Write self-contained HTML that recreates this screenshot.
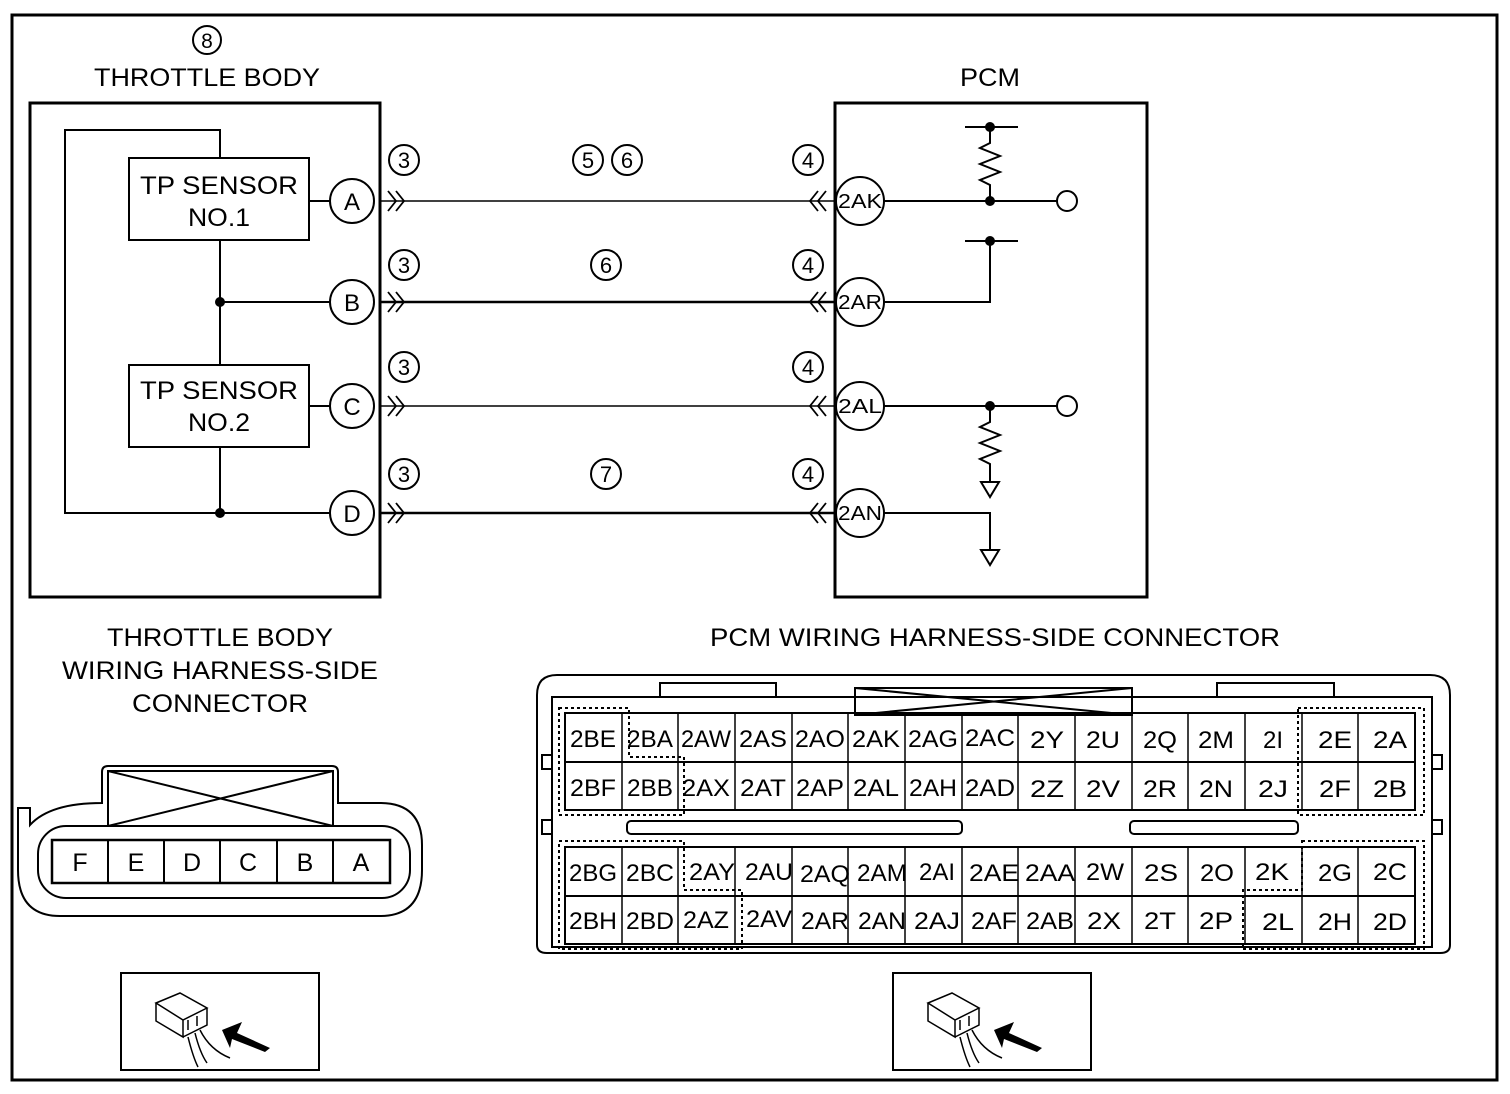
<!DOCTYPE html><html><head><style>body{margin:0;background:#fff}svg{display:block}</style></head><body>
<svg width="1510" height="1094" viewBox="0 0 1510 1094" xmlns="http://www.w3.org/2000/svg" font-family="Liberation Sans, sans-serif">
<rect x="0" y="0" width="1510" height="1094" fill="#fff"/>
<rect x="12" y="15" width="1485" height="1065" fill="none" stroke="#000" stroke-width="3"/>
<g fill="none" stroke="#000" stroke-width="3">
<rect x="30" y="103" width="350" height="494"/>
<rect x="835" y="103" width="312" height="494"/>
</g>
<g font-size="25" text-anchor="middle" fill="#000">
<text x="207" y="86" textLength="226" lengthAdjust="spacingAndGlyphs">THROTTLE BODY</text>
<text x="990" y="86" textLength="60" lengthAdjust="spacingAndGlyphs">PCM</text>
<text x="220" y="646" textLength="226" lengthAdjust="spacingAndGlyphs">THROTTLE BODY</text>
<text x="220" y="679" textLength="316" lengthAdjust="spacingAndGlyphs">WIRING HARNESS-SIDE</text>
<text x="220" y="712" textLength="176" lengthAdjust="spacingAndGlyphs">CONNECTOR</text>
<text x="995" y="646" textLength="570" lengthAdjust="spacingAndGlyphs">PCM WIRING HARNESS-SIDE CONNECTOR</text>
<text x="219" y="194" textLength="158" lengthAdjust="spacingAndGlyphs">TP SENSOR</text><text x="219" y="226" textLength="62" lengthAdjust="spacingAndGlyphs">NO.1</text>
<text x="219" y="399" textLength="158" lengthAdjust="spacingAndGlyphs">TP SENSOR</text><text x="219" y="431" textLength="62" lengthAdjust="spacingAndGlyphs">NO.2</text>
</g>
<g fill="none" stroke="#000" stroke-width="2">
<polyline points="220,158 220,130 65,130 65,513 330,513"/>
<line x1="220" y1="240" x2="220" y2="365"/>
<line x1="220" y1="447" x2="220" y2="513"/>
<line x1="220" y1="302" x2="330" y2="302"/>
<rect x="129" y="158" width="180" height="82"/>
<rect x="129" y="365" width="180" height="82"/>
<line x1="309" y1="201" x2="330" y2="201"/>
<line x1="309" y1="406" x2="330" y2="406"/>
<circle cx="352" cy="201" r="22"/><circle cx="352" cy="302" r="22"/><circle cx="352" cy="406" r="22"/><circle cx="352" cy="513" r="22"/>
<circle cx="860" cy="201" r="24"/><circle cx="860" cy="302" r="24"/><circle cx="860" cy="406" r="24"/><circle cx="860" cy="513" r="24"/>
<line x1="380" y1="201" x2="835" y2="201" stroke-width="1.5"/>
<line x1="380" y1="302" x2="835" y2="302" stroke-width="2.5"/>
<line x1="380" y1="406" x2="835" y2="406" stroke-width="1.5"/>
<line x1="380" y1="513" x2="835" y2="513" stroke-width="2.5"/>
<circle cx="207" cy="40" r="14"/>
<circle cx="404" cy="160" r="15"/><circle cx="404" cy="265" r="15"/><circle cx="404" cy="367" r="15"/><circle cx="404" cy="474" r="15"/>
<circle cx="808" cy="160" r="15"/><circle cx="808" cy="265" r="15"/><circle cx="808" cy="367" r="15"/><circle cx="808" cy="474" r="15"/>
<circle cx="588" cy="160" r="15"/><circle cx="627" cy="160" r="15"/><circle cx="606" cy="265" r="15"/><circle cx="606" cy="474" r="15"/>
<line x1="884" y1="201" x2="1057" y2="201"/><circle cx="1067" cy="201" r="10"/>
<polyline points="990,201 990,185 980,180 1000,172 980,164 1000,156 980,148 990,143 990,127"/>
<line x1="965" y1="127" x2="1018" y2="127"/>
<polyline points="884,302 990,302 990,241"/><line x1="965" y1="241" x2="1018" y2="241"/>
<line x1="884" y1="406" x2="1057" y2="406"/><circle cx="1067" cy="406" r="10"/>
<polyline points="990,406 990,422 980,427 1000,435 980,443 1000,451 980,459 990,464 990,482"/>
<polygon points="981,482 999,482 990,497"/>
<polyline points="884,513 990,513 990,550"/><polygon points="981,550 999,550 990,565"/>
</g>
<g fill="#000">
<circle cx="220" cy="302" r="5"/><circle cx="220" cy="513" r="5"/>
<circle cx="990" cy="201" r="5"/><circle cx="990" cy="127" r="5"/><circle cx="990" cy="241" r="5"/><circle cx="990" cy="406" r="5"/>
</g>
<g font-size="24" text-anchor="middle" fill="#000">
<text x="352" y="210">A</text><text x="352" y="311">B</text><text x="352" y="415">C</text><text x="352" y="522">D</text>
<text x="207" y="48" font-size="21">8</text>
</g>
<g font-size="22" text-anchor="middle" fill="#000">
<text x="404" y="168">3</text><text x="404" y="273">3</text><text x="404" y="375">3</text><text x="404" y="482">3</text>
<text x="808" y="168">4</text><text x="808" y="273">4</text><text x="808" y="375">4</text><text x="808" y="482">4</text>
<text x="588" y="168">5</text><text x="627" y="168">6</text><text x="606" y="273">6</text><text x="606" y="482">7</text>
</g>
<g font-size="20" text-anchor="middle" fill="#000">
<text x="860" y="208" textLength="44" lengthAdjust="spacingAndGlyphs">2AK</text>
<text x="860" y="309" textLength="44" lengthAdjust="spacingAndGlyphs">2AR</text>
<text x="860" y="413" textLength="44" lengthAdjust="spacingAndGlyphs">2AL</text>
<text x="860" y="520" textLength="44" lengthAdjust="spacingAndGlyphs">2AN</text>
</g>
<g fill="none" stroke="#000" stroke-width="1.8">
<path d="M388,191 l8,10 l-8,10 M396,191 l8,10 l-8,10"/>
<path d="M388,292 l8,10 l-8,10 M396,292 l8,10 l-8,10"/>
<path d="M388,396 l8,10 l-8,10 M396,396 l8,10 l-8,10"/>
<path d="M388,503 l8,10 l-8,10 M396,503 l8,10 l-8,10"/>
<path d="M818,191 l-8,10 l8,10 M826,191 l-8,10 l8,10"/>
<path d="M818,292 l-8,10 l8,10 M826,292 l-8,10 l8,10"/>
<path d="M818,396 l-8,10 l8,10 M826,396 l-8,10 l8,10"/>
<path d="M818,503 l-8,10 l8,10 M826,503 l-8,10 l8,10"/>
</g>
<g fill="none" stroke="#000" stroke-width="2">
<path d="M102,803 L102,772 Q102,766 108,766 L332,766 Q338,766 338,772 L338,803 L380,803 Q422,803 422,845 L422,870 Q422,916 380,916 L60,916 Q18,916 18,870 L18,808 L30,808 L30,825 Q50,803 102,803 Z"/>
<path d="M108,826 V771 H333 V826 M108,771 L333,826 M333,771 L108,826"/>
<rect x="38" y="826" width="372" height="72" rx="28"/>
<rect x="52" y="840" width="338" height="43" stroke-width="2.5"/>
<path d="M108,840V883M164,840V883M220,840V883M277,840V883M333,840V883"/>
<rect x="121" y="973" width="198" height="97"/>
<rect x="893" y="973" width="198" height="97"/>
</g>
<g font-size="25" text-anchor="middle">
<text x="80" y="871">F</text><text x="136" y="871">E</text><text x="192" y="871">D</text><text x="248" y="871">C</text><text x="305" y="871">B</text><text x="361" y="871">A</text>
</g>
<g fill="none" stroke="#000" stroke-width="1.5">
<g id="ic">
<path d="M156,1003 l24,-10 l27,15 l-24,12 z M156,1003 v18 l27,16 v-17 M207,1008 v17 l-24,12"/>
<path d="M188,1020 v10 M197,1016 v10 M188,1037 q5,20 10,30 M195,1033 q5,20 12,30 M200,1030 q10,20 30,28"/>
</g>
<use href="#ic" x="772"/>
</g>
<polygon points="222,1030 242,1022 237,1033 270,1048 265,1052 232,1039 230,1048" fill="#000"/>
<polygon points="994,1030 1014,1022 1009,1033 1042,1048 1037,1052 1004,1039 1002,1048" fill="#000"/>
<g fill="none" stroke="#000" stroke-width="2">
<path d="M537,945 V695 Q537,675 557,675 H1430 Q1450,675 1450,695 V945 Q1450,953 1440,953 H547 Q537,953 537,945 Z"/>
<rect x="552" y="697" width="880" height="250"/>
<path d="M660,697 V683 H776 V697 M1217,697 V683 H1334 V697"/>
<rect x="855" y="688" width="277" height="27"/>
<path d="M855,688 L1132,715 M1132,688 L855,715"/>
<rect x="542" y="755" width="10" height="14"/><rect x="542" y="820" width="10" height="14"/>
<rect x="1432" y="755" width="10" height="14"/><rect x="1432" y="820" width="10" height="14"/>
<rect x="627" y="821" width="335" height="13" rx="4"/>
<rect x="1130" y="821" width="168" height="13" rx="4"/>
<rect x="565" y="713" width="850" height="97"/>
<rect x="565" y="847" width="850" height="97"/>
<line x1="565" y1="762" x2="1415" y2="762"/><line x1="565" y1="896" x2="1415" y2="896"/>
</g>
<g fill="none" stroke="#000" stroke-width="1.5">
<path d="M622,713V810M678,713V810M735,713V810M792,713V810M848,713V810M905,713V810M962,713V810M1018,713V810M1075,713V810M1132,713V810M1188,713V810M1245,713V810M1302,713V810M1358,713V810"/>
<path d="M622,847V944M678,847V944M735,847V944M792,847V944M848,847V944M905,847V944M962,847V944M1018,847V944M1075,847V944M1132,847V944M1188,847V944M1245,847V944M1302,847V944M1358,847V944"/>
</g>
<g fill="none" stroke="#000" stroke-width="2" stroke-dasharray="3,3">
<path d="M559,708 H629 V757 H684 V815 H559 Z"/>
<path d="M1298,708 H1424 V815 H1298 Z"/>
<path d="M559,841 H684 V890 H742 V949 H559 Z"/>
<path d="M1302,841 H1424 V949 H1243 V890 H1302 Z"/>
</g>
<g font-size="24" text-anchor="middle" fill="#000">
<text x="593" y="747" textLength="46" lengthAdjust="spacingAndGlyphs">2BE</text><text x="650" y="747" textLength="46" lengthAdjust="spacingAndGlyphs">2BA</text><text x="706" y="747" textLength="50" lengthAdjust="spacingAndGlyphs">2AW</text><text x="763" y="747" textLength="48" lengthAdjust="spacingAndGlyphs">2AS</text><text x="820" y="747" textLength="50" lengthAdjust="spacingAndGlyphs">2AO</text><text x="876" y="747" textLength="48" lengthAdjust="spacingAndGlyphs">2AK</text><text x="933" y="747" textLength="50" lengthAdjust="spacingAndGlyphs">2AG</text><text x="990" y="746" textLength="50" lengthAdjust="spacingAndGlyphs">2AC</text><text x="1047" y="748" textLength="34" lengthAdjust="spacingAndGlyphs">2Y</text><text x="1103" y="748" textLength="34" lengthAdjust="spacingAndGlyphs">2U</text><text x="1160" y="748" textLength="34" lengthAdjust="spacingAndGlyphs">2Q</text><text x="1216" y="748" textLength="36" lengthAdjust="spacingAndGlyphs">2M</text><text x="1273" y="748">2I</text><text x="1335" y="748" textLength="34" lengthAdjust="spacingAndGlyphs">2E</text><text x="1390" y="748" textLength="34" lengthAdjust="spacingAndGlyphs">2A</text>
<text x="593" y="796" textLength="46" lengthAdjust="spacingAndGlyphs">2BF</text><text x="650" y="796" textLength="46" lengthAdjust="spacingAndGlyphs">2BB</text><text x="706" y="796" textLength="48" lengthAdjust="spacingAndGlyphs">2AX</text><text x="763" y="796" textLength="46" lengthAdjust="spacingAndGlyphs">2AT</text><text x="820" y="796" textLength="48" lengthAdjust="spacingAndGlyphs">2AP</text><text x="876" y="796" textLength="46" lengthAdjust="spacingAndGlyphs">2AL</text><text x="933" y="796" textLength="48" lengthAdjust="spacingAndGlyphs">2AH</text><text x="990" y="796" textLength="50" lengthAdjust="spacingAndGlyphs">2AD</text><text x="1047" y="797" textLength="34" lengthAdjust="spacingAndGlyphs">2Z</text><text x="1103" y="797" textLength="34" lengthAdjust="spacingAndGlyphs">2V</text><text x="1160" y="797" textLength="34" lengthAdjust="spacingAndGlyphs">2R</text><text x="1216" y="797" textLength="34" lengthAdjust="spacingAndGlyphs">2N</text><text x="1273" y="797" textLength="30" lengthAdjust="spacingAndGlyphs">2J</text><text x="1335" y="797" textLength="32" lengthAdjust="spacingAndGlyphs">2F</text><text x="1390" y="797" textLength="34" lengthAdjust="spacingAndGlyphs">2B</text>
<text x="593" y="881" textLength="48" lengthAdjust="spacingAndGlyphs">2BG</text><text x="650" y="881" textLength="48" lengthAdjust="spacingAndGlyphs">2BC</text><text x="712" y="880" textLength="46" lengthAdjust="spacingAndGlyphs">2AY</text><text x="769" y="880" textLength="48" lengthAdjust="spacingAndGlyphs">2AU</text><text x="825" y="882" textLength="50" lengthAdjust="spacingAndGlyphs">2AQ</text><text x="882" y="881" textLength="50" lengthAdjust="spacingAndGlyphs">2AM</text><text x="937" y="880">2AI</text><text x="994" y="881" textLength="50" lengthAdjust="spacingAndGlyphs">2AE</text><text x="1050" y="881" textLength="50" lengthAdjust="spacingAndGlyphs">2AA</text><text x="1105" y="880" textLength="38" lengthAdjust="spacingAndGlyphs">2W</text><text x="1161" y="881" textLength="34" lengthAdjust="spacingAndGlyphs">2S</text><text x="1217" y="881" textLength="34" lengthAdjust="spacingAndGlyphs">2O</text><text x="1272" y="880" textLength="34" lengthAdjust="spacingAndGlyphs">2K</text><text x="1335" y="881" textLength="34" lengthAdjust="spacingAndGlyphs">2G</text><text x="1390" y="880" textLength="34" lengthAdjust="spacingAndGlyphs">2C</text>
<text x="593" y="929" textLength="48" lengthAdjust="spacingAndGlyphs">2BH</text><text x="650" y="929" textLength="48" lengthAdjust="spacingAndGlyphs">2BD</text><text x="706" y="928" textLength="46" lengthAdjust="spacingAndGlyphs">2AZ</text><text x="769" y="927" textLength="46" lengthAdjust="spacingAndGlyphs">2AV</text><text x="825" y="929" textLength="48" lengthAdjust="spacingAndGlyphs">2AR</text><text x="882" y="929" textLength="48" lengthAdjust="spacingAndGlyphs">2AN</text><text x="937" y="929" textLength="46" lengthAdjust="spacingAndGlyphs">2AJ</text><text x="994" y="929" textLength="46" lengthAdjust="spacingAndGlyphs">2AF</text><text x="1050" y="929" textLength="48" lengthAdjust="spacingAndGlyphs">2AB</text><text x="1104" y="929" textLength="34" lengthAdjust="spacingAndGlyphs">2X</text><text x="1160" y="929" textLength="32" lengthAdjust="spacingAndGlyphs">2T</text><text x="1216" y="929" textLength="34" lengthAdjust="spacingAndGlyphs">2P</text><text x="1278" y="930" textLength="32" lengthAdjust="spacingAndGlyphs">2L</text><text x="1335" y="930" textLength="34" lengthAdjust="spacingAndGlyphs">2H</text><text x="1390" y="930" textLength="34" lengthAdjust="spacingAndGlyphs">2D</text>
</g>
</svg>
</body></html>
